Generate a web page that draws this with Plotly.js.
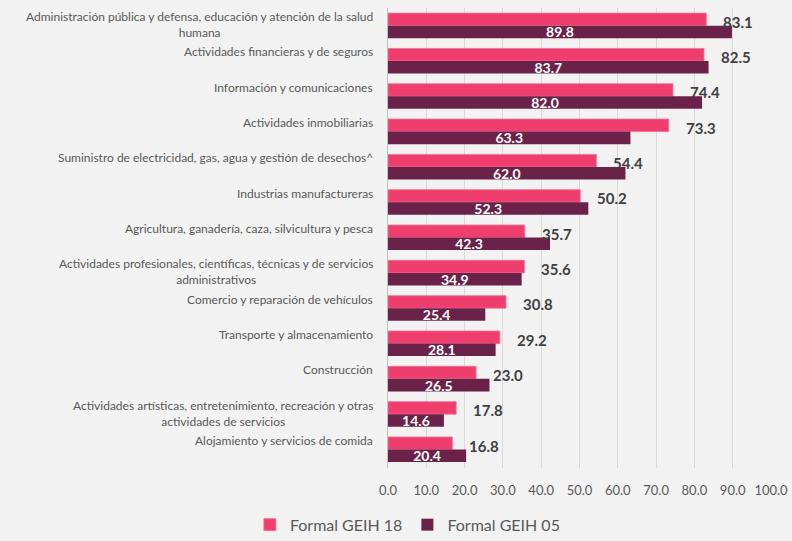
<!DOCTYPE html>
<html>
<head>
<meta charset="utf-8">
<script src="https://cdn.plot.ly/plotly-3.0.1.min.js"></script>
<style>
  html, body { margin: 0; padding: 0; background: #f2f2f2; }
  #chart { width: 792px; height: 541px; }
</style>
</head>
<body>
<div id="chart"></div>
<script>
// Sector names (top to bottom), with manual line breaks where the label wraps
const categories = [
  "Administración pública y defensa, educación y atención de la salud<br>humana",
  "Actividades financieras y de seguros",
  "Información y comunicaciones",
  "Actividades inmobiliarias",
  "Suministro de electricidad, gas, agua y gestión de desechos^",
  "Industrias manufactureras",
  "Agricultura, ganadería, caza, silvicultura y pesca",
  "Actividades profesionales, científicas, técnicas y de servicios<br>administrativos",
  "Comercio y reparación de vehículos",
  "Transporte y almacenamiento",
  "Construcción",
  "Actividades artísticas, entretenimiento, recreación y otras<br>actividades de servicios",
  "Alojamiento y servicios de comida"
];

const formalGeih18 = [83.1, 82.5, 74.4, 73.3, 54.4, 50.2, 35.7, 35.6, 30.8, 29.2, 23.0, 17.8, 16.8];
const formalGeih05 = [89.8, 83.7, 82.0, 63.3, 62.0, 52.3, 42.3, 34.9, 25.4, 28.1, 26.5, 14.6, 20.4];

const seriesNames = ["Formal GEIH 18", "Formal GEIH 05"];
const xTicks = [0, 10, 20, 30, 40, 50, 60, 70, 80, 90, 100];

const FONT = "Lato, 'Open Sans', sans-serif";
const PINK = "#ef3d6e";
const MAROON = "#6b2249";

const traces = [
  {
    type: "bar",
    orientation: "h",
    name: seriesNames[0],
    x: formalGeih18,
    y: categories,
    marker: { color: PINK, line: { color: "#f07095", width: 0.8 } },
    hoverinfo: "x+name"
  },
  {
    type: "bar",
    orientation: "h",
    name: seriesNames[1],
    x: formalGeih05,
    y: categories,
    marker: { color: MAROON },
    text: formalGeih05.map(v => v.toFixed(1)),
    textposition: "inside",
    insidetextanchor: "middle",
    textangle: 0,
    constraintext: "none",
    textfont: { family: FONT, size: 14, color: "#ffffff", weight: "bold" },
    hoverinfo: "x+name"
  }
];

// Category labels on the left: right-aligned block, centred lines
const catLabels = categories.map(c => ({
  xref: "paper", yref: "y",
  x: 0, y: c,
  xanchor: "right", yanchor: "middle",
  xshift: -13,
  yshift: c.includes("<br>") ? 1 : 9,
  align: "center",
  showarrow: false,
  text: c,
  font: { family: FONT, size: 12, color: "#595959" }
}));

// Value labels just past the end of each pink bar
const pinkLabels = formalGeih18.map((v, i) => ({
  xref: "x", yref: "y",
  x: v, y: categories[i],
  xanchor: "left", yanchor: "middle",
  xshift: 15,
  yshift: 4,
  showarrow: false,
  text: "<b>" + v.toFixed(1) + "</b>",
  font: { family: FONT, size: 15, color: "#404040" }
}));

const layout = {
  width: 792,
  height: 541,
  paper_bgcolor: "#f2f2f2",
  plot_bgcolor: "#f2f2f2",
  margin: { l: 388, r: 21, t: 8, b: 73 },
  barmode: "group",
  bargap: 0.29,
  bargroupgap: 0,
  showlegend: true,
  legend: {
    orientation: "h",
    xref: "container", yref: "container",
    x: 0.515, xanchor: "center",
    y: 0.03, yanchor: "middle",
    font: { family: FONT, size: 16, color: "#595959" },
    itemwidth: 30,
    traceorder: "normal"
  },
  xaxis: {
    range: [0, 100],
    tickvals: xTicks,
    ticktext: xTicks.map(v => v.toFixed(1)),
    showgrid: true,
    gridcolor: "#d9d9d9",
    gridwidth: 1,
    zeroline: false,
    showline: false,
    ticks: "outside",
    ticklen: 10,
    tickcolor: "rgba(0,0,0,0)",
    tickfont: { family: FONT, size: 13, color: "#595959" },
    fixedrange: true
  },
  yaxis: {
    autorange: "reversed",
    showticklabels: false,
    showgrid: false,
    zeroline: false,
    showline: true,
    linecolor: "#bfbfbf",
    linewidth: 1,
    ticks: "",
    fixedrange: true
  },
  annotations: catLabels.concat(pinkLabels)
};

Plotly.newPlot("chart", traces, layout, { displayModeBar: false, staticPlot: true });
</script>
</body>
</html>
